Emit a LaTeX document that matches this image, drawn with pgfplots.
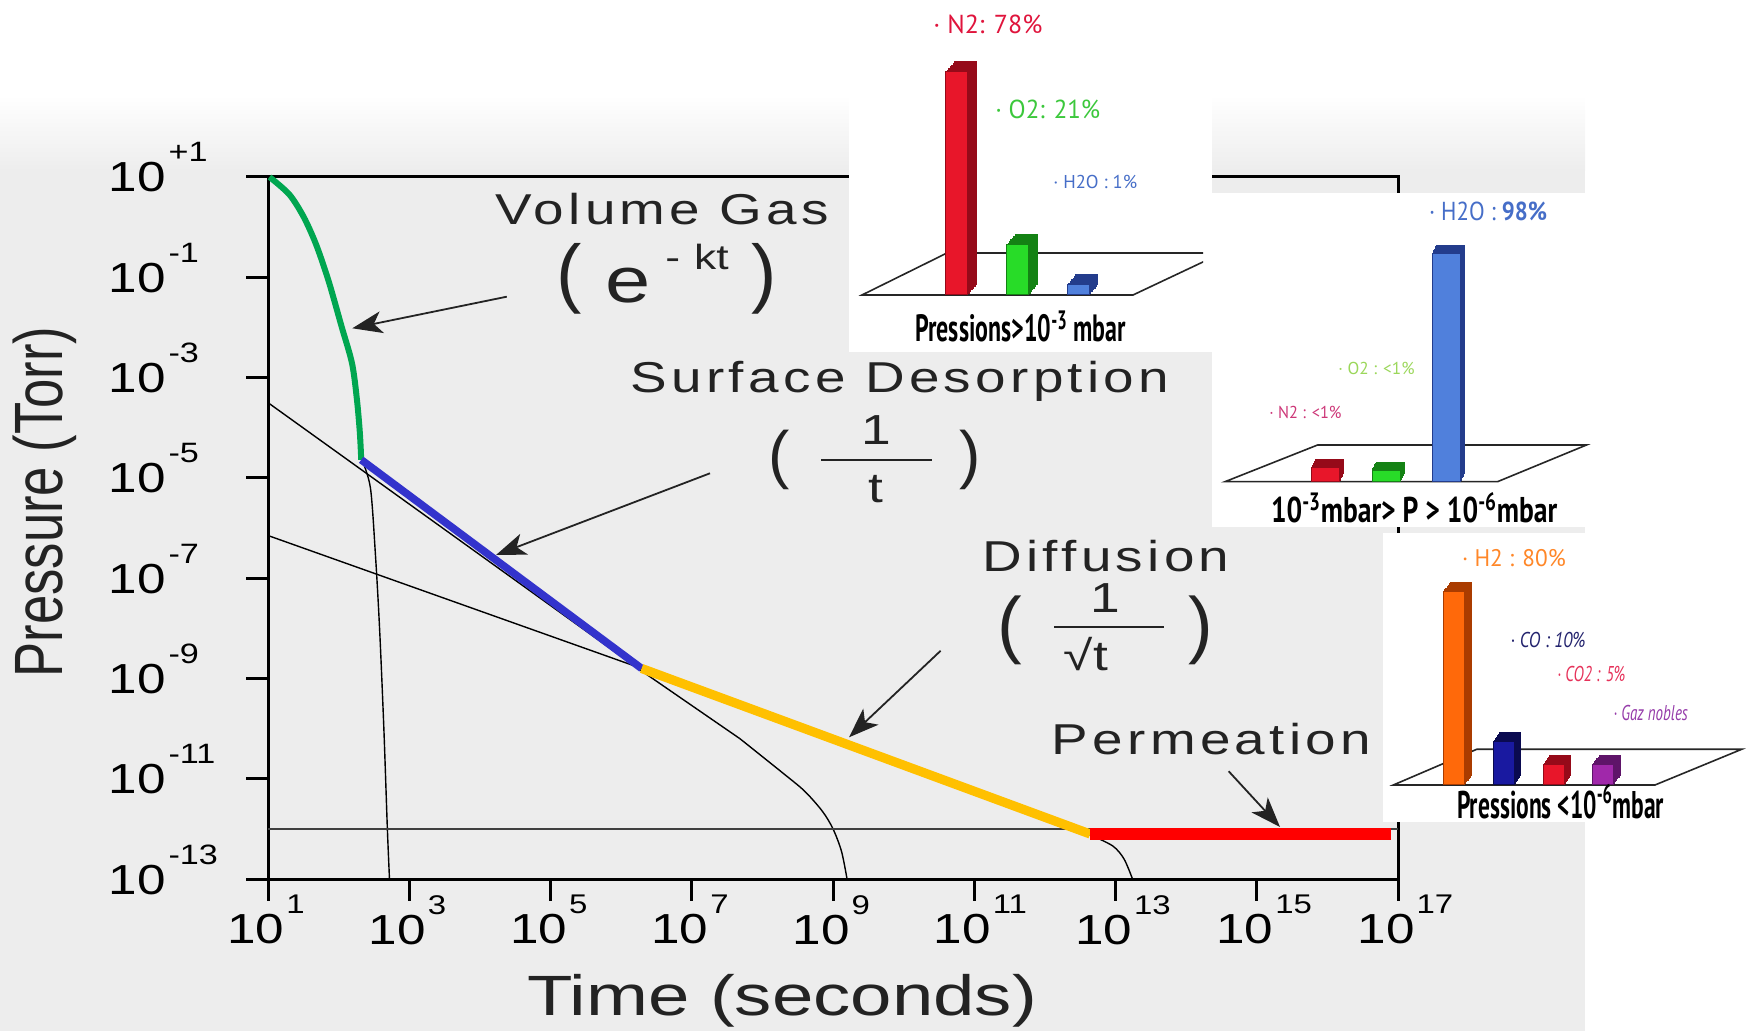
\documentclass[border=0pt]{standalone}
\usepackage{pgfplots}
\pgfplotsset{compat=1.18}
\usepackage{fontspec}
\usepackage{graphicx}
\usetikzlibrary{arrows.meta}
\setmainfont{Liberation Sans}
\newfontfamily\tickf[FakeStretch=1.22]{Liberation Sans}
\newfontfamily\annf[FakeStretch=1.27,LetterSpace=10]{Liberation Sans}
\newfontfamily\stf[FakeStretch=1.27]{Liberation Sans}
\newfontfamily\axf[FakeStretch=1.31]{Liberation Sans}
\newfontfamily\insf{PT Sans}

\definecolor{bgc}{RGB}{237,237,237}
\definecolor{cgreen}{RGB}{0,166,80}
\definecolor{cblue}{RGB}{51,51,204}
\definecolor{corange}{RGB}{255,192,0}
\definecolor{cred}{RGB}{255,0,0}
\definecolor{txt}{RGB}{35,35,35}
% inset colours (front / dark side)
\definecolor{nred}{RGB}{232,22,42}\definecolor{nredd}{RGB}{150,10,25}
\definecolor{ogrn}{RGB}{40,220,40}\definecolor{ogrnd}{RGB}{20,130,20}
\definecolor{hblu}{RGB}{80,128,220}\definecolor{hblud}{RGB}{35,60,140}
\definecolor{horg}{RGB}{255,105,10}\definecolor{horgd}{RGB}{170,60,0}
\definecolor{conv}{RGB}{25,25,160}\definecolor{convd}{RGB}{10,10,80}
\definecolor{cpur}{RGB}{160,40,170}\definecolor{cpurd}{RGB}{95,20,105}
\definecolor{tN}{RGB}{224,20,60}\definecolor{tO}{RGB}{60,200,60}
\definecolor{tH}{RGB}{70,110,200}\definecolor{tOl}{RGB}{155,215,90}
\definecolor{tNm}{RGB}{205,55,120}\definecolor{tHo}{RGB}{255,135,40}
\definecolor{tCO}{RGB}{35,35,110}\definecolor{tCO2}{RGB}{230,50,90}
\definecolor{tGz}{RGB}{150,60,170}

\newcommand\xl[1]{{\tickf\fontsize{21}{21}\selectfont 10\rlap{\hspace{1pt}\raisebox{15pt}{\fontsize{13.5}{13.5}\selectfont #1}}}}
\newcommand\yl[1]{{\tickf\fontsize{21}{21}\selectfont 10\rlap{\hspace{1.5pt}\raisebox{15pt}{\fontsize{14}{14}\selectfont #1}}}}
\newcommand\ft[3]{\scalebox{#1}[1]{\fontsize{#2}{#2}\selectfont #3}}

\pgfplotsset{inset/.style={scale only axis, axis lines=none, ybar, ymin=0, ymax=100,
  xmin=-0.5, enlargelimits=false, anchor=south west, clip=false}}

% inset bar sets: #1 x, #2 y, #3 colour suffix ('' front, 'd' side)
\newcommand\barsA[3]{\begin{axis}[inset, at={(#1,#2)}, width=91.1pt, height=143pt, xmax=2.5, bar width=11pt]
\addplot[fill=nred#3, draw=nredd, line width=0.5pt, bar shift=0pt] coordinates {(0,78)};
\addplot[fill=ogrn#3, draw=ogrnd, line width=0.5pt, bar shift=0pt] coordinates {(1,17.5)};
\addplot[fill=hblu#3, draw=hblud, line width=0.5pt, bar shift=0pt] coordinates {(2,3.5)};
\end{axis}}
\newcommand\barsB[3]{\begin{axis}[inset, at={(#1,#2)}, width=90.75pt, height=116.5pt, xmax=2.5, bar width=14pt]
\addplot[fill=nred#3, draw=nredd, line width=0.5pt, bar shift=0pt] coordinates {(0,5.9)};
\addplot[fill=ogrn#3, draw=ogrnd, line width=0.5pt, bar shift=0pt] coordinates {(1,5.0)};
\addplot[fill=hblu#3, draw=hblud, line width=0.5pt, bar shift=0pt] coordinates {(2,98)};
\end{axis}}
\newcommand\barsC[3]{\begin{axis}[inset, at={(#1,#2)}, width=99.2pt, height=121pt, xmax=3.5, bar width=10.5pt]
\addplot[fill=horg#3, draw=horgd, line width=0.5pt, bar shift=0pt] coordinates {(0,80)};
\addplot[fill=conv#3, draw=convd, line width=0.5pt, bar shift=0pt] coordinates {(1,17.9)};
\addplot[fill=nred#3, draw=nredd, line width=0.5pt, bar shift=0pt] coordinates {(2,8.3)};
\addplot[fill=cpur#3, draw=cpurd, line width=0.5pt, bar shift=0pt] coordinates {(3,8.3)};
\end{axis}}

\begin{document}
\begin{tikzpicture}[x=0.5pt,y=0.5pt]
\path (0,0) rectangle (1751,1031);
% photo background
\shade[top color=white, bottom color=bgc] (0,936) rectangle (1585,860);
\fill[bgc] (0,0) rectangle (1585,860);

\begin{axis}[at={(134pt,76pt)}, anchor=south west, scale only axis,
  width=565pt, height=351pt, xmode=log, ymode=log,
  xmin=1e1, xmax=1e17, ymin=1e-13, ymax=1e1, clip=false,
  axis line style={line width=1.5pt, black},
  every tick/.style={black, line width=1.5pt},
  tick align=outside, tick pos=left, major tick length=11pt,
  xminorticks=false, yminorticks=false,
  xtick={1e1,1e3,1e5,1e7,1e9,1e11,1e13,1e15,1e17},
  xticklabels={\xl{1},\xl{3},\xl{5},\xl{7},\xl{9},\xl{11},\xl{13},\xl{15},\xl{17}},
  ytick={1e-13,1e-11,1e-9,1e-7,1e-5,1e-3,1e-1,1e1},
  yticklabels={\yl{-13},\yl{-11},\yl{-9},\yl{-7},\yl{-5},\yl{-3},\yl{-1},\yl{+1}},
  xticklabel style={anchor=north, inner sep=0pt, xshift=-6pt, yshift=3pt},
  yticklabel style={anchor=base east, inner sep=0pt, xshift=-40pt, yshift=-7.5pt},
]
% thin component curves
\addplot[black, line width=0.7pt] coordinates {(10,3.16e-4) (1.95e6,1.41e-9) (4.79e7,6.31e-11)};
\addplot[black, line width=0.7pt, smooth, tension=0.5] coordinates {(4.79e7,6.31e-11) (2.0e8,1.26e-11) (3.98e8,5.62e-12) (7.08e8,2.24e-12) (1e9,1e-12) (1.32e9,3.55e-13) (1.58e9,1e-13)};
\addplot[black, line width=0.7pt] coordinates {(10,7.08e-7) (1.95e6,1.58e-9) (4.37e12,7.6e-13)};
\addplot[black, line width=0.7pt, smooth, tension=0.5] coordinates {(4.37e12,7.6e-13) (9.12e12,4.57e-13) (1.32e13,2.51e-13) (1.74e13,1e-13)};
\addplot[black, line width=0.7pt, smooth, tension=0.5] coordinates {(214,2.29e-5) (282,6.31e-6) (331,3.16e-7) (380,1e-8) (437,1e-10) (490,1e-12) (525,1e-13)};
\addplot[black!75, line width=1.3pt] coordinates {(10,1e-12) (1e17,1e-12)};
% coloured regimes
\addplot[cgreen, line width=3pt, smooth, tension=0.5] coordinates {(10.5,10) (20,4.5) (32,1.6) (48,0.45) (72,0.085) (110,0.0105) (155,1.91e-3) (182,3.55e-4) (200,7.76e-5) (209,2.29e-5)};
\addplot[cblue, line width=3.8pt] coordinates {(209,2.29e-5) (1.95e6,1.58e-9)};
\addplot[corange, line width=4.6pt] coordinates {(1.95e6,1.58e-9) (4.37e12,7.9e-13)};
\addplot[cred, line width=5.8pt] coordinates {(4.37e12,7.9e-13) (7.94e16,7.9e-13)};
\end{axis}

% annotations
\begin{scope}[txt]
\node[font=\annf\fontsize{21.6}{21.6}\selectfont] at (662.5,822) {Volume Gas};
\node[font=\fontsize{38}{38}\selectfont] at (569,752) {(};
\node[font=\stf\fontsize{32}{32}\selectfont] at (628,745) {e};
\node[font=\stf\fontsize{17.5}{17.5}\selectfont] at (697,774) {-\hspace{7pt}kt};
\node[font=\fontsize{38}{38}\selectfont] at (764,752) {)};

\node[font=\annf\fontsize{21.6}{21.6}\selectfont] at (900,650) {Surface Desorption};
\node[font=\fontsize{32}{32}\selectfont] at (779.5,571) {(};
\node[font=\stf\fontsize{21}{21}\selectfont] at (876,601) {1};
\draw[line width=1pt] (821,571) -- (932,571);
\node[font=\stf\fontsize{21}{21}\selectfont] at (876,542) {t};
\node[font=\fontsize{32}{32}\selectfont] at (970,571) {)};

\node[font=\annf\fontsize{21.6}{21.6}\selectfont] at (1106,475) {Diffusion};
\node[font=\fontsize{37}{37}\selectfont] at (1009.5,400.5) {(};
\node[font=\stf\fontsize{21}{21}\selectfont] at (1105.5,433) {1};
\draw[line width=1pt] (1054,404) -- (1164,404);
\node[font=\stf\fontsize{21}{21}\selectfont] at (1086,377) {√t};
\node[font=\fontsize{37}{37}\selectfont] at (1200.5,400.5) {)};

\node[font=\annf\fontsize{21.6}{21.6}\selectfont] at (1211.5,292) {Permeation};

\node[font=\axf\fontsize{28.4}{28.4}\selectfont] at (782,30) {Time (seconds)};
\node[rotate=90] at (45,529) {\scalebox{1}[1.3]{\fontsize{26.3}{26.3}\selectfont Pressure (Torr)}};

\draw[line width=0.9pt, -{Stealth[length=15pt, width=11pt, inset=4pt]}] (506.8,734.3) -- (352.3,702.7);
\draw[line width=0.9pt, -{Stealth[length=15pt, width=11pt, inset=4pt]}] (710,557.7) -- (496,476);
\draw[line width=0.9pt, -{Stealth[length=15pt, width=11pt, inset=4pt]}] (940.6,380.2) -- (849,293.7);
\draw[line width=0.9pt, -{Stealth[length=15pt, width=11pt, inset=4pt]}] (1228.6,259.8) -- (1280,204);
\end{scope}

% ---------- inset 1 : P > 1e-3 mbar ----------
\fill[white] (849,679) rectangle (1212,1031);
\begin{scope}
\clip (849,679) rectangle (1203,1031);
\draw[line width=0.8pt, black!85] (862,736) -- (1133,736) -- (1222,778) -- (947,778) -- cycle;
\end{scope}
\foreach \s in {6,5,...,1}{\barsA{463.3pt+\s*0.708pt}{368pt+\s*0.833pt}{d}}
\barsA{463.3pt}{368pt}{}
\begin{scope}[font=\insf]
\node[anchor=west, text=tN, inner sep=0pt] at (933,1007) {\ft{1.0}{13}{· N2: 78\%}};
\node[anchor=west, text=tO, inner sep=0pt] at (995,922) {\ft{0.96}{13}{· O2: 21\%}};
\node[anchor=west, text=tH, inner sep=0pt] at (1053,849) {\ft{1.0}{9.3}{· H2O : 1\%}};
\node[anchor=base west, inner sep=0pt] at (915,689) {\ft{0.63}{19}{\bfseries Pressions>10\textsuperscript{-3} mbar}};
\end{scope}

% ---------- inset 2 : 1e-3 > P > 1e-6 mbar ----------
\fill[white] (1212,504) rectangle (1586,838);
\draw[line width=0.8pt, black!85] (1225,549.3) -- (1497.5,549.3) -- (1586.5,586) -- (1317.6,586) -- cycle;
\foreach \s in {6,5,...,1}{\barsB{647.625pt+\s*0.333pt}{274.65pt+\s*0.667pt}{d}}
\barsB{647.625pt}{274.65pt}{}
\begin{scope}[font=\insf]
\node[anchor=west, text=tH, inner sep=0pt] at (1428.6,820) {\ft{0.88}{13}{· H2O : \textbf{98\%}}};
\node[anchor=west, text=tOl, inner sep=0pt] at (1338,663) {\ft{1.0}{8.6}{· O2 : <1\%}};
\node[anchor=west, text=tNm, inner sep=0pt] at (1269,619) {\ft{0.95}{8.6}{· N2 : <1\%}};
\node[anchor=base west, inner sep=0pt] at (1270.6,508) {\ft{0.77}{17.9}{\bfseries 10\textsuperscript{-3}mbar> P > 10\textsuperscript{-6}mbar}};
\end{scope}

% ---------- inset 3 : P < 1e-6 mbar ----------
\fill[white] (1383,209) rectangle (1751,498);
\draw[line width=0.8pt, black!85] (1393.3,246) -- (1655,246) -- (1741.7,281.7) -- (1476.7,281.7) -- cycle;
\foreach \s in {6,5,...,1}{\barsC{714.75pt+\s*0.542pt}{123pt+\s*0.75pt}{d}}
\barsC{714.75pt}{123pt}{}
\begin{scope}[font=\insf]
\node[anchor=west, text=tHo, inner sep=0pt] at (1461.7,473) {\ft{0.97}{12}{· H2 : 80\%}};
\node[anchor=west, text=tCO, inner sep=0pt] at (1510,391) {\ft{0.82}{10.7}{\itshape · CO : 10\%}};
\node[anchor=west, text=tCO2, inner sep=0pt] at (1556.7,357) {\ft{0.73}{10.7}{\itshape · CO2 : 5\%}};
\node[anchor=west, text=tGz, inner sep=0pt] at (1613,318) {\ft{0.7}{10.7}{\itshape · Gaz nobles}};
\node[anchor=base west, inner sep=0pt] at (1456.7,212) {\ft{0.61}{19.3}{\bfseries Pressions <10\textsuperscript{-6}mbar}};
\end{scope}
\end{tikzpicture}
\end{document}
